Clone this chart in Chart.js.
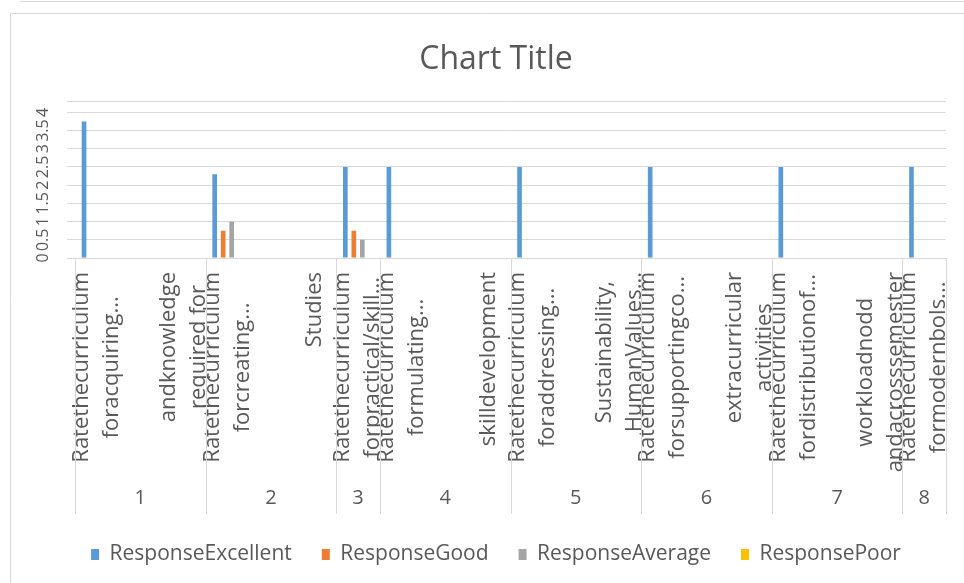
<!DOCTYPE html>
<html>
<head>
<meta charset="utf-8">
<script src="https://cdn.jsdelivr.net/npm/chart.js"></script>
<style>
  body { margin: 0; background: #fff; }
  #wrap { width: 964px; height: 583px; }
</style>
</head>
<body>
<div id="wrap"><canvas id="responseChart" width="964" height="583"></canvas></div>
<script>
    // groups on the outer axis level and how many categories each holds
    const groupNames = ['1', '2', '3', '4', '5', '6', '7', '8'];
    const groupSizes = [3, 3, 1, 3, 3, 3, 3, 1];

    // inner axis level, one entry per category (wrapped lines)
    const categoryLabels = [
        ['Ratethecurriculum', 'foracquiring...'],
        [],
        ['andknowledge', 'required for'],
        ['Ratethecurriculum', 'forcreating...'],
        [],
        ['Studies'],
        ['Ratethecurriculum', 'forpractical/skill...'],
        ['Ratethecurriculum', 'formulating...'],
        [],
        ['skilldevelopment'],
        ['Ratethecurriculum', 'foraddressing...'],
        [],
        ['Sustainability,', 'HumanValues...'],
        ['Ratethecurriculum', 'forsupportingco...'],
        [],
        ['extracurricular', 'activities'],
        ['Ratethecurriculum', 'fordistributionof...'],
        [],
        ['workloadnodd', 'andacrosssemester'],
        ['Ratethecurriculum', 'formodernbols...'],
    ];

    const responseExcellent = [3.75, null, null, 2.3, null, null, 2.5, 2.5, null, null, 2.5, null, null, 2.5, null, null, 2.5, null, null, 2.5];
    const responseGood      = [null, null, null, 0.75, null, null, 0.75, null, null, null, null, null, null, null, null, null, null, null, null, null];
    const responseAverage   = [null, null, null, 1.0, null, null, 0.5, null, null, null, null, null, null, null, null, null, null, null, null, null];
    const responsePoor      = [null, null, null, null, null, null, null, null, null, null, null, null, null, null, null, null, null, null, null, null];

    const yTicks = [0, 0.5, 1, 1.5, 2, 2.5, 3, 3.5, 4, 4.3];
    const yTickLabels = ['0', '0.5', '1', '1.5', '2', '2.5', '3', '3.5', '4', ''];

    const textColor = '#595959';
    const lineColor = '#d9d9d9';

    // draws the two-level category axis and the sideways value labels
    const axisLabels = {
        id: 'axisLabels',
        beforeDraw(chart) {
            const ctx = chart.ctx;
            ctx.save();
            ctx.fillStyle = '#fff';
            ctx.fillRect(0, 0, chart.width, chart.height);
            ctx.strokeStyle = lineColor;
            ctx.lineWidth = 1;
            ctx.beginPath();
            ctx.moveTo(20, 1.5); ctx.lineTo(chart.width, 1.5);
            ctx.moveTo(10.5, 13.5); ctx.lineTo(chart.width, 13.5);
            ctx.moveTo(10.5, 13.5); ctx.lineTo(10.5, chart.height);
            ctx.stroke();
            ctx.restore();
        },
        afterDraw(chart) {
            const { ctx, scales: { x, y } } = chart;
            ctx.save();
            ctx.fillStyle = textColor;
            ctx.textAlign = 'center';
            ctx.textBaseline = 'middle';

            ctx.font = '16px "Open Sans"';
            yTicks.forEach((v, i) => {
                if (!yTickLabels[i]) return;
                ctx.save();
                ctx.translate(43, y.getPixelForValue(v));
                ctx.rotate(-Math.PI / 2);
                ctx.fillText(yTickLabels[i], 0, 0);
                ctx.restore();
            });

            // each label block hangs from the axis, lines centred on the longest one
            ctx.font = '22px "Open Sans"';
            const blockTop = x.top + 14;
            categoryLabels.forEach((lines, i) => {
                if (!lines.length) return;
                const cx = x.getPixelForValue(i);
                const longest = Math.max(...lines.map((l) => ctx.measureText(l).width));
                lines.forEach((line, j) => {
                    ctx.save();
                    ctx.translate(cx + (j - (lines.length - 1) / 2) * 30, blockTop + longest / 2);
                    ctx.rotate(-Math.PI / 2);
                    ctx.fillText(line, 0, 0);
                    ctx.restore();
                });
            });

            ctx.strokeStyle = lineColor;
            ctx.lineWidth = 1;
            ctx.font = '20px "Open Sans"';
            let start = 0;
            const edge = x.getPixelForValue(-0.5);
            ctx.beginPath();
            ctx.moveTo(Math.round(edge) + 0.5, x.top);
            ctx.lineTo(Math.round(edge) + 0.5, x.bottom);
            groupNames.forEach((name, g) => {
                const end = start + groupSizes[g];
                const px = Math.round(x.getPixelForValue(end - 0.5)) + 0.5;
                ctx.moveTo(px, x.top);
                ctx.lineTo(px, x.bottom);
                const mid = x.getPixelForValue((start + end - 1) / 2);
                ctx.fillText(name, mid, x.bottom - 16);
                start = end;
            });
            ctx.stroke();
            ctx.restore();
        }
    };

    new Chart(document.getElementById('responseChart'), {
        type: 'bar',
        data: {
            labels: categoryLabels.map((l) => l.join(' ')),
            datasets: [
                { label: 'ResponseExcellent', data: responseExcellent, backgroundColor: '#5b9bd5' },
                { label: 'ResponseGood', data: responseGood, backgroundColor: '#ed7d31' },
                { label: 'ResponseAverage', data: responseAverage, backgroundColor: '#a5a5a5' },
                { label: 'ResponsePoor', data: responsePoor, backgroundColor: '#ffc000' },
            ],
        },
        options: {
            responsive: false,
            animation: false,
            categoryPercentage: 0.78,
            barPercentage: 0.55,
            layout: {
                padding: { top: 18, left: 46, right: 18, bottom: 8 },
            },
            plugins: {
                title: {
                    display: true,
                    text: 'Chart Title',
                    color: textColor,
                    font: { family: 'Open Sans', size: 32, weight: 'normal' },
                    padding: { top: 23, bottom: 22 },
                },
                legend: {
                    position: 'bottom',
                    labels: {
                        color: textColor,
                        font: { family: 'Open Sans', size: 21 },
                        boxWidth: 8,
                        boxHeight: 11,
                        padding: 30,
                    },
                },
                tooltip: { enabled: false },
            },
            scales: {
                x: {
                    grid: { display: false },
                    border: { display: false },
                    ticks: { display: false },
                    afterFit(scale) { scale.height = 256; },
                },
                y: {
                    min: 0,
                    max: 4.3,
                    grid: { color: lineColor },
                    border: { display: false },
                    ticks: { display: false },
                    afterBuildTicks(scale) { scale.ticks = yTicks.map((v) => ({ value: v })); },
                    afterFit(scale) { scale.width = 29; },
                },
            },
        },
        plugins: [axisLabels],
    });
</script>
</body>
</html>
